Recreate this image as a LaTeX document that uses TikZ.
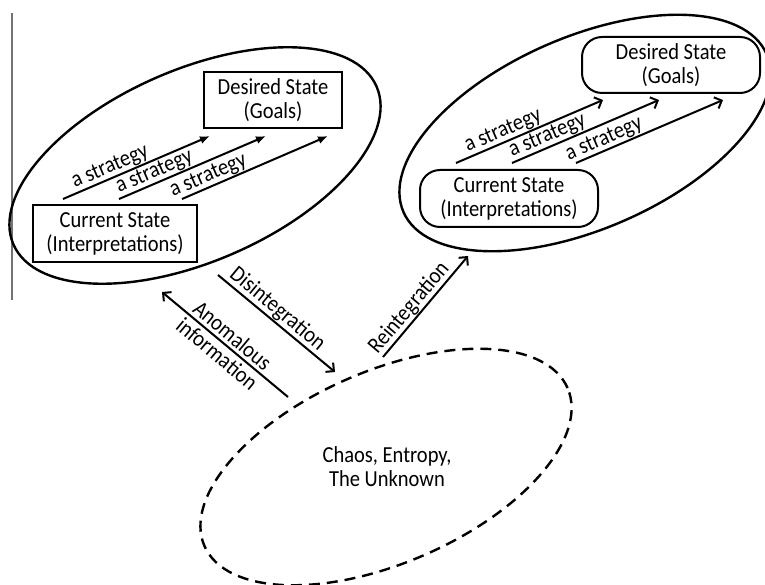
\documentclass[tikz,border=0pt]{standalone}
\usepackage{fontspec}
\usepackage{graphicx}
\setmainfont{Carlito}
\usetikzlibrary{arrows.meta,shapes.geometric}
\newcommand\tl[1]{\scalebox{1}[1.12]{#1}}
\begin{document}
\begin{tikzpicture}[x=1pt,y=-1pt,
  lbl/.style={font=\fontsize{20.5}{24}\selectfont, inner sep=0.5pt},
  sqbox/.style={draw, line width=2pt, align=center, inner sep=0pt,
                font=\fontsize{20.5}{24}\selectfont},
  rbox/.style={sqbox, rounded corners=20pt},
  oval/.style={draw, ellipse, line width=2.4pt, minimum width=396pt,
               minimum height=192pt, rotate=23.5, inner sep=0pt},
  chaosoval/.style={oval, dash pattern=on 11pt off 7pt},
  fillarrow/.style={line width=2pt, -{Latex[length=10pt,width=8pt]}},
  openarrow/.style={line width=2pt, -{Straight Barb[length=6pt,width=12pt]}}
]
\useasboundingbox (0,0) rectangle (765,585);
\clip (0,0) rectangle (765,585);
\fill[white] (0,0) rectangle (765,585);

% left margin rule
\coordinate (v1) at (12,13);
\coordinate (v2) at (12,300);
\draw[black!55, line width=1.2pt] (v1) -- (v2);

% ellipses
\node[oval] (E1) at (195,165.5) {};
\node[oval] (E2) at (585,133) {};
\node[chaosoval] (E3) at (386,467) {};
\node[lbl, align=center] (chaos) at (387,467) {\tl{Chaos, Entropy,}\\\tl{The Unknown}};

% left group
\node[sqbox, minimum width=164pt, minimum height=57pt] (cs1) at (115,233.5) {\tl{Current State}\\\tl{(Interpretations)}};
\node[sqbox, minimum width=138pt, minimum height=56pt] (ds1) at (273,100) {\tl{Desired State}\\\tl{(Goals)}};
\coordinate (ls1) at (63,199);  \coordinate (le1) at (210,136);
\coordinate (ls2) at (119,199); \coordinate (le2) at (266,136);
\coordinate (ls3) at (182,199); \coordinate (le3) at (328,136);
\draw[fillarrow] (ls1) -- node[lbl, sloped, above, pos=0.35] {\tl{a strategy}} (le1);
\draw[fillarrow] (ls2) -- node[lbl, sloped, above, pos=0.27] {\tl{a strategy}} (le2);
\draw[fillarrow] (ls3) -- node[lbl, sloped, above, pos=0.21] {\tl{a strategy}} (le3);

% right group
\node[rbox, minimum width=178pt, minimum height=57pt] (cs2) at (509,198.5) {\tl{Current State}\\\tl{(Interpretations)}};
\node[rbox, minimum width=178pt, minimum height=56pt] (ds2) at (671,65) {\tl{Desired State}\\\tl{(Goals)}};
\coordinate (rs1) at (456,163); \coordinate (re1) at (603,100);
\coordinate (rs2) at (512,163); \coordinate (re2) at (659,100);
\coordinate (rs3) at (576,163); \coordinate (re3) at (723,100);
\draw[openarrow] (rs1) -- node[lbl, sloped, above, pos=0.35] {\tl{a strategy}} (re1);
\draw[openarrow] (rs2) -- node[lbl, sloped, above, pos=0.27] {\tl{a strategy}} (re2);
\draw[openarrow] (rs3) -- node[lbl, sloped, above, pos=0.22] {\tl{a strategy}} (re3);

% transitions
\coordinate (an1) at (288,397); \coordinate (an2) at (162,292);
\coordinate (di1) at (218,275); \coordinate (di2) at (335,372);
\coordinate (re1a) at (383,357); \coordinate (re2a) at (468,256);
\draw[openarrow] (an1) -- node[lbl, sloped, align=center, pos=0.5] {\tl{Anomalous}\\\tl{information}} (an2);
\draw[openarrow] (di1) -- node[lbl, sloped, above, pos=0.445] {\tl{Disintegration}} (di2);
\draw[openarrow] (re1a) -- node[lbl, sloped, above, pos=0.41] {\tl{Reintegration}} (re2a);
\end{tikzpicture}
\end{document}
